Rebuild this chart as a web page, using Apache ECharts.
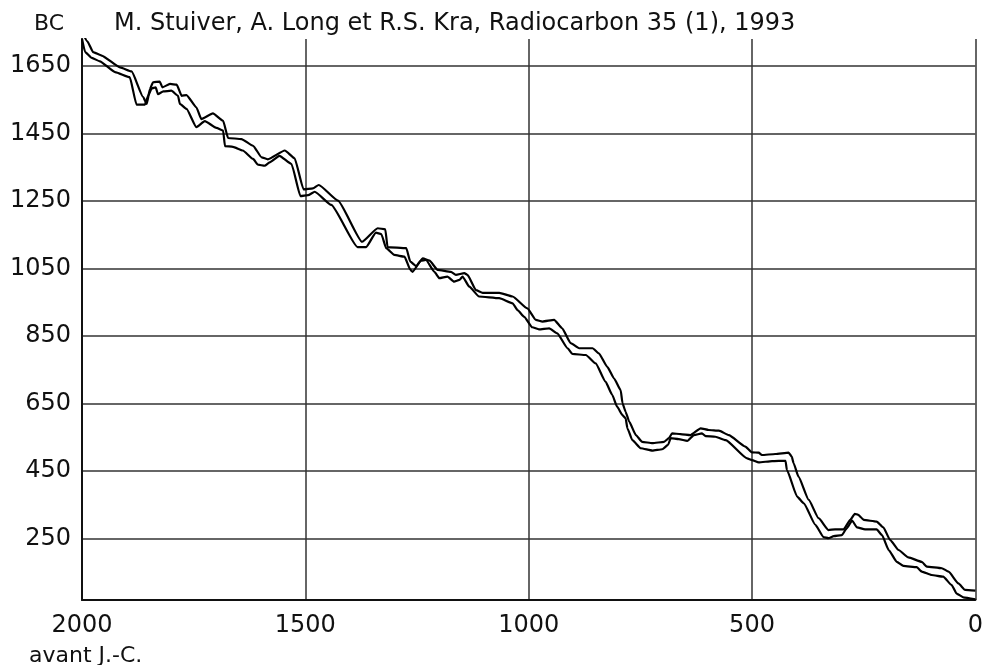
<!DOCTYPE html>
<html>
<head>
<meta charset="utf-8">
<script src="https://cdn.jsdelivr.net/npm/echarts@6/dist/echarts.min.js"></script>
<style>
html,body{margin:0;padding:0;background:#fff;}
#chart{width:986px;height:665px;}
</style>
</head>
<body>
<div id="chart"></div>
<script>
// Calendar years (avant J.-C.) and radiocarbon ages (BC)
const xTicks = [0, 500, 1000, 1500, 2000];
const yTickLabels = [250, 450, 650, 850, 1050, 1250, 1450, 1650];

const upperCurve = [
  [2000,1751],[1988,1722],[1975,1690],[1956,1680],[1915,1645],[1889,1633],[1863,1557],[1855,1537],
  [1848,1581],[1841,1601],[1826,1603],[1820,1586],[1803,1596],[1788,1594],[1777,1561],[1766,1563],
  [1744,1527],[1733,1492],[1707,1509],[1684,1487],[1673,1436],[1643,1433],[1617,1413],[1598,1379],
  [1584,1373],[1546,1399],[1524,1376],[1504,1284],[1483,1287],[1470,1297],[1427,1251],[1373,1129],
  [1338,1169],[1321,1166],[1316,1113],[1274,1110],[1265,1070],[1252,1057],[1237,1080],[1222,1073],
  [1204,1046],[1174,1040],[1163,1031],[1144,1036],[1137,1031],[1118,986],[1103,978],[1066,978],
  [1036,967],[1003,932],[984,898],[969,893],[943,898],[925,873],[906,829],[887,814],[857,814],
  [843,799],[824,759],[809,725],[794,690],[790,651],[783,626],[775,597],[760,557],[746,537],
  [723,533],[697,537],[686,548],[679,562],[660,560],[638,557],[615,577],[597,572],[574,570],
  [552,557],[515,523],[500,506],[485,505],[478,498],[448,501],[418,505],[411,493],[407,474],
  [396,434],[373,365],[351,311],[329,276],[314,278],[295,278],[280,306],[270,324],[262,321],
  [250,306],[221,301],[206,284],[191,247],[172,217],[150,195],[120,182],[109,168],[75,163],
  [60,153],[38,118],[23,99],[0,97]
];

const lowerCurve = [
  [2000,1730],[1993,1690],[1978,1673],[1960,1663],[1926,1631],[1893,1616],[1878,1535],[1859,1535],
  [1852,1561],[1844,1583],[1835,1586],[1830,1566],[1818,1574],[1800,1576],[1785,1561],[1781,1537],
  [1766,1522],[1744,1468],[1725,1486],[1699,1466],[1684,1458],[1680,1412],[1662,1410],[1640,1399],
  [1617,1374],[1606,1357],[1591,1354],[1580,1364],[1558,1383],[1531,1359],[1511,1264],[1494,1267],
  [1479,1277],[1442,1238],[1383,1113],[1364,1113],[1342,1156],[1330,1152],[1319,1110],[1301,1090],
  [1278,1085],[1265,1046],[1260,1040],[1241,1073],[1230,1075],[1211,1040],[1200,1021],[1182,1026],
  [1167,1011],[1155,1016],[1148,1026],[1133,996],[1111,967],[1066,962],[1036,947],[1025,927],
  [1010,907],[992,876],[977,870],[954,873],[936,858],[913,814],[902,797],[872,794],[850,769],
  [828,715],[813,676],[802,641],[790,616],[783,607],[779,577],[768,542],[749,518],[723,511],
  [701,515],[688,528],[682,548],[664,545],[645,540],[630,557],[612,562],[604,554],[582,552],
  [559,542],[511,488],[500,483],[485,476],[455,480],[425,481],[422,454],[399,375],[384,355],
  [358,291],[340,255],[329,252],[317,258],[299,261],[288,281],[276,304],[265,284],[247,278],
  [221,278],[209,261],[194,217],[176,182],[161,170],[131,166],[120,153],[98,143],[72,138],
  [53,113],[42,88],[27,77],[0,71]
];

const FONT = 'DejaVu Sans';
const plain = v => String(Math.round(v));
const chart = echarts.init(document.getElementById('chart'), null, {renderer: 'canvas'});
chart.setOption({
  animation: false,
  backgroundColor: '#ffffff',
  title: [
    {text: 'BC', left: 29, top: 8, textStyle: {fontFamily: FONT, fontSize: 22, fontWeight: 'normal', color: '#111'}},
    {text: 'M. Stuiver, A. Long et R.S. Kra, Radiocarbon 35 (1), 1993', left: 109, top: 7,
      textStyle: {fontFamily: FONT, fontSize: 24, fontWeight: 'normal', color: '#111'}},
    {text: 'avant J.-C.', left: 24, top: 640, textStyle: {fontFamily: FONT, fontSize: 22, fontWeight: 'normal', color: '#111'}}
  ],
  grid: {left: 82, right: 9, top: 39, bottom: 65, containLabel: false},
  xAxis: {
    type: 'value', min: 0, max: 2000, interval: 500, inverse: true,
    axisLine: {show: true, onZero: false, lineStyle: {color: '#111', width: 2}},
    axisTick: {show: false},
    axisLabel: {fontFamily: FONT, fontSize: 24, color: '#111', margin: 14,
      customValues: xTicks, formatter: plain},
    splitLine: {show: true, lineStyle: {color: '#333', width: 1.5}}
  },
  yAxis: {
    type: 'value', min: 69, max: 1729,
    axisLine: {show: true, onZero: false, lineStyle: {color: '#111', width: 2}},
    axisTick: {show: false, customValues: yTickLabels},
    axisLabel: {fontFamily: FONT, fontSize: 24, color: '#111', margin: 11,
      customValues: yTickLabels, formatter: plain},
    splitLine: {show: true, lineStyle: {color: '#333', width: 1.5}}
  },
  series: [
    {type: 'line', data: upperCurve, showSymbol: false, smooth: 0.15, smoothMonotone: 'x', clip: true,
      lineStyle: {color: '#000', width: 2.2}},
    {type: 'line', data: lowerCurve, showSymbol: false, smooth: 0.15, smoothMonotone: 'x', clip: true,
      lineStyle: {color: '#000', width: 2.2}}
  ]
});
</script>
</body>
</html>
